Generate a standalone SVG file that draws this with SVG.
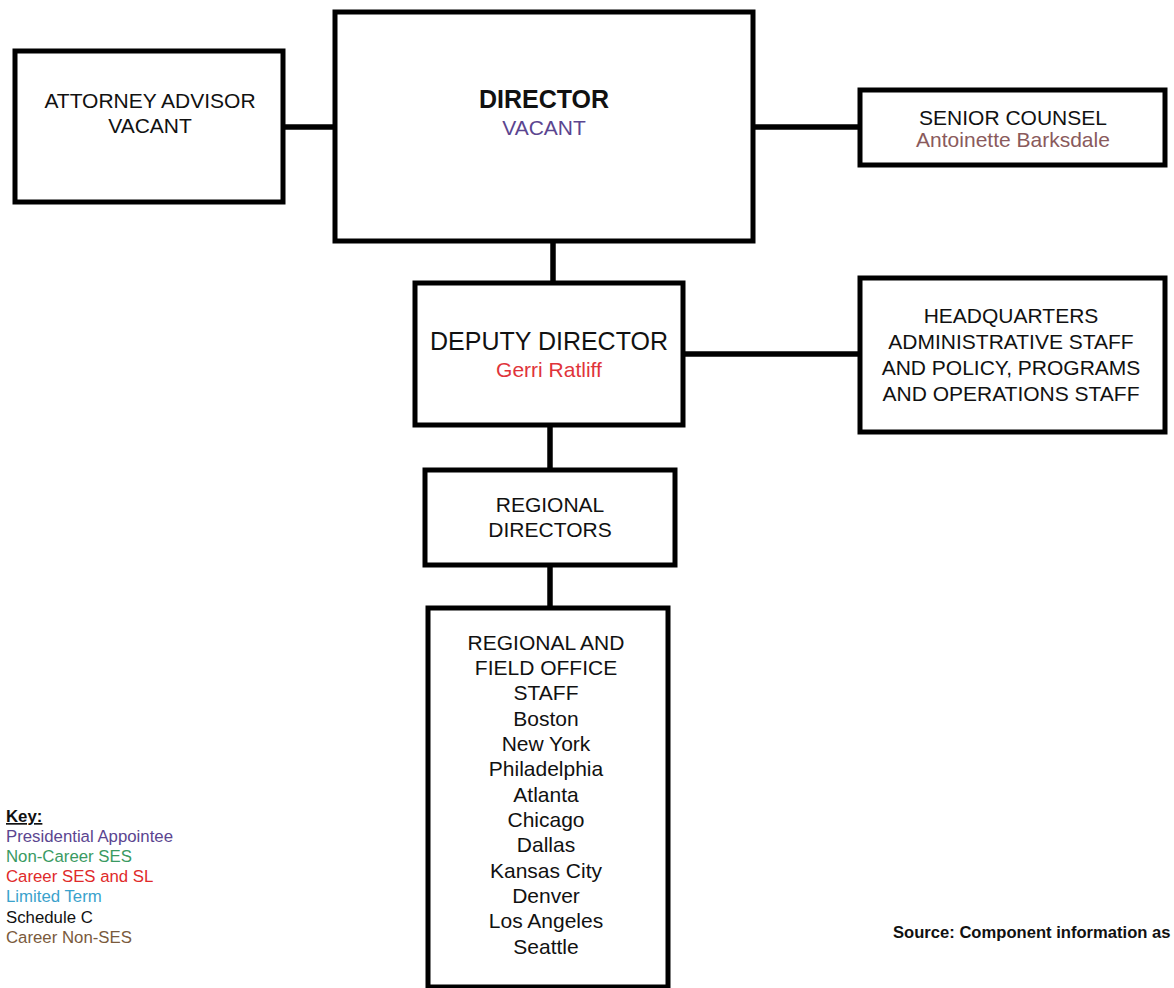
<svg xmlns="http://www.w3.org/2000/svg" width="1174" height="988" viewBox="0 0 1174 988">
<style>
.box{fill:#fff;stroke:#000;stroke-width:5}
.con{stroke:#000;stroke-width:5.5;fill:none}
text{font-family:"Liberation Sans",Arial,sans-serif;fill:#111}
.t{font-size:21px;text-anchor:middle}
.big{font-size:25px;text-anchor:middle}
.key{font-size:16.8px}
</style>
<rect width="1174" height="988" fill="#fff"/>
<g id="connectors">
<line class="con" x1="283" y1="127" x2="335" y2="127"/>
<line class="con" x1="753" y1="127" x2="860" y2="127"/>
<line class="con" x1="553" y1="241" x2="553" y2="283"/>
<line class="con" x1="683" y1="354" x2="860" y2="354"/>
<line class="con" x1="550" y1="425" x2="550" y2="470"/>
<line class="con" x1="550" y1="565" x2="550" y2="608"/>
</g>
<g id="attorney">
<rect class="box" x="15" y="51" width="268" height="151"/>
<text class="t" x="150" y="108">ATTORNEY ADVISOR</text>
<text class="t" x="150" y="133">VACANT</text>
</g>
<g id="director">
<rect class="box" x="335" y="12" width="418" height="229"/>
<text class="big" x="544" y="108" font-weight="bold">DIRECTOR</text>
<text class="t" x="544" y="135" style="fill:#5b4590">VACANT</text>
</g>
<g id="senior">
<rect class="box" x="860" y="90" width="305" height="75"/>
<text class="t" x="1013" y="125">SENIOR COUNSEL</text>
<text class="t" x="1013" y="147" style="fill:#8a5a5c">Antoinette Barksdale</text>
</g>
<g id="deputy">
<rect class="box" x="415" y="283" width="268" height="142"/>
<text class="big" x="549" y="350">DEPUTY DIRECTOR</text>
<text class="t" x="549" y="377" style="fill:#e0343a">Gerri Ratliff</text>
</g>
<g id="hq">
<rect class="box" x="860" y="278" width="305" height="154"/>
<text class="t" x="1011" y="323">HEADQUARTERS</text>
<text class="t" x="1011" y="349">ADMINISTRATIVE STAFF</text>
<text class="t" x="1011" y="375">AND POLICY, PROGRAMS</text>
<text class="t" x="1011" y="401">AND OPERATIONS STAFF</text>
</g>
<g id="regional">
<rect class="box" x="425" y="470" width="250" height="95"/>
<text class="t" x="550" y="512">REGIONAL</text>
<text class="t" x="550" y="537">DIRECTORS</text>
</g>
<g id="field">
<rect class="box" x="428" y="608" width="240" height="379"/>
<text class="t" x="546" y="650">REGIONAL AND</text>
<text class="t" x="546" y="675">FIELD OFFICE</text>
<text class="t" x="546" y="700">STAFF</text>
<text class="t" x="546" y="726">Boston</text>
<text class="t" x="546" y="751">New York</text>
<text class="t" x="546" y="776">Philadelphia</text>
<text class="t" x="546" y="802">Atlanta</text>
<text class="t" x="546" y="827">Chicago</text>
<text class="t" x="546" y="852">Dallas</text>
<text class="t" x="546" y="878">Kansas City</text>
<text class="t" x="546" y="903">Denver</text>
<text class="t" x="546" y="928">Los Angeles</text>
<text class="t" x="546" y="954">Seattle</text>
</g>
<g id="key">
<text class="key" x="6" y="822" font-weight="bold" text-decoration="underline">Key:</text>
<text class="key" x="6" y="842" style="fill:#5b4590">Presidential Appointee</text>
<text class="key" x="6" y="862" style="fill:#3a9a62">Non-Career SES</text>
<text class="key" x="6" y="882" style="fill:#e02a2a">Career SES and SL</text>
<text class="key" x="6" y="902" style="fill:#3aa2cc">Limited Term</text>
<text class="key" x="6" y="923" style="fill:#111">Schedule C</text>
<text class="key" x="6" y="943" style="fill:#7a5a3c">Career Non-SES</text>
</g>
<g id="source">
<text x="893" y="938" font-size="16.6" font-weight="bold">Source: Component information as</text>
</g>
</svg>
